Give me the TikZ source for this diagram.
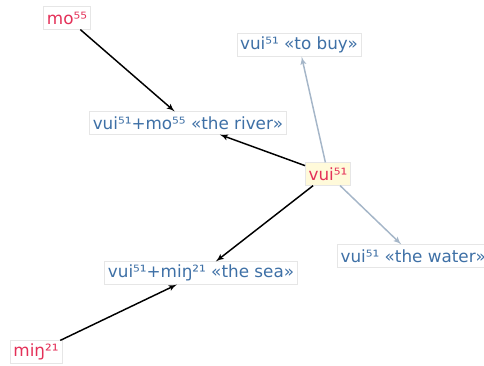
\documentclass[tikz,border=0pt]{standalone}
\usepackage{fontspec}
\setmainfont{DejaVu Sans}
\usepackage{tikz}
\usetikzlibrary{arrows}
\usetikzlibrary{positioning}
\definecolor{wordred}{RGB}{228,48,88}
\definecolor{wordblue}{RGB}{62,112,166}
\definecolor{boxgrey}{RGB}{230,230,230}
\definecolor{rootfill}{RGB}{255,250,218}
\definecolor{linkgrey}{RGB}{165,182,200}
\tikzstyle{every node}+=[inner sep=0pt]
\tikzstyle{word} = [rectangle, draw=boxgrey, fill=white, font=\fontsize{12.6}{14}\selectfont, inner xsep=2.5pt, inner ysep=2pt, minimum height=17pt]
\tikzstyle{root} = [word, text=wordred]
\tikzstyle{compound} = [word, text=wordblue]
\tikzstyle{line} = [draw, -latex', line width=1.1pt]
\tikzstyle{sense} = [draw=linkgrey, -latex', line width=1.1pt]

\begin{document}
\begin{tikzpicture}[x=0.75pt, y=-0.75pt]
            \useasboundingbox (0,0) rectangle (484,365);
            % Place nodes
            \node [root, fill=rootfill] (vui) at (328,174) {vui⁵¹};
            \node [root] (mo) at (67,18) {mo⁵⁵};
            \node [root] (ming) at (36,352) {miŋ²¹};
            \node [compound] (buy) at (299,45) {vui⁵¹ «to buy»};
            \node [compound] (river) at (188,123) {vui⁵¹+mo⁵⁵ «the river»};
            \node [compound] (sea) at (201,273) {vui⁵¹+miŋ²¹ «the sea»};
            \node [compound, anchor=west] (water) at (337,256) {vui⁵¹ «the water»};
            % Draw edges
            \path [line] (mo) -- (river);
            \path [line] (vui) -- (river);
            \path [line] (vui) -- (sea);
            \path [line] (ming) -- (sea);
            \path [sense] (vui) -- (buy);
            \path [sense] (vui) -- (water);
\end{tikzpicture}
\end{document}
